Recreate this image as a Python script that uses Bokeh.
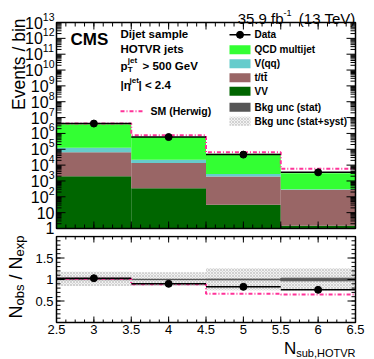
import numpy as np
from bokeh.plotting import figure
from bokeh.models import Range1d, Label
from bokeh.layouts import column
from bokeh.embed import file_html
from bokeh.resources import INLINE

# ---------------- data ----------------
bin_lo = [2.5, 3.5, 4.5, 5.5]
bin_hi = [3.5, 4.5, 5.5, 6.5]
bin_center = [3.0, 4.0, 5.0, 6.0]
vv = [2000, 353, 31, 1.5]
ttbar = [64000, 13150, 1870, 278]
vqq = [60000, 8500, 800, 16]
qcd = [3.63e6, 5.68e5, 5.03e4, 2800]
data = [4.2e6, 5.9e5, 4.6e4, 3.5e3]
herwig = [4.2e6, 7.6e5, 6.6e4, 5.9e3]
ratio_data = [1.03, 0.90, 0.83, 0.76]
ratio_herwig = [1.02, 0.89, 0.67, 0.65]
unc_tot_hi = [1.18, 1.17, 1.26, 1.26]
unc_tot_lo = [0.85, 0.85, 0.75, 0.75]
unc_stat = [0.004, 0.005, 0.008, 0.03]
x_ticks = [2.5, 3.0, 3.5, 4.0, 4.5, 5.0, 5.5, 6.0, 6.5]
x_tick_labels = ["2.5", "3", "3.5", "4", "4.5", "5", "5.5", "6", "6.5"]
ry_ticks = [0.5, 1.0, 1.5]
ry_tick_labels = ["0.5", "1", "1.5"]
decades = list(range(14))
X_LO, X_HI = 2.5, 6.5
Y_LO, Y_HI = 1.0, 1e13
R_LO, R_HI = 0.0, 2.0

C_QCD = "#33ff33"
C_VQQ = "#66cccc"
C_TT = "#996666"
C_VV = "#006600"
C_STAT = "#555555"
C_HW = "#ff3399"
FONT = "Liberation Sans"

# ---------------- layout (image px) ----------------
W = 374
FL, FR = 56, 355
UT, UB = 22, 228
LT, LB = 236, 322
H1 = 235
H2 = 359 - H1


def xd(px):
    return X_LO + (px - FL) * (X_HI - X_LO) / (FR - FL)


def yu(py):
    return 10 ** (13.0 * (UB - py) / (UB - UT))


def yl(py):
    return R_LO + (R_HI - R_LO) * (LB - py) / (LB - LT)


def lab(p, x, y, text, size, bold=False, align="left", baseline="middle", angle=0.0):
    p.add_layout(Label(x=x, y=y, text=text, text_font=FONT, text_font_size=f"{size}px",
                       text_font_style="bold" if bold else "normal", text_align=align,
                       text_baseline=baseline, angle=angle, text_color="black"))


def bare(p):
    p.grid.visible = False
    p.outline_line_color = None
    p.min_border = 0
    p.min_border_left = p.min_border_right = p.min_border_top = p.min_border_bottom = 0


x_minor = [v for v in np.arange(2.5, 6.5001, 0.125)]
y_minor = [m * 10.0 ** k for k in decades[:-1] for m in range(2, 10)]
ry_minor = list(np.round(np.arange(0.1, 2.0, 0.1), 3))

# ---------------- upper panel ----------------
p1 = figure(width=W, height=H1, x_range=Range1d(xd(0), xd(W)), y_range=Range1d(yu(H1), yu(0)),
            y_axis_type="log", x_axis_location=None, y_axis_location=None,
            output_backend="svg", toolbar_location=None)
bare(p1)

s0 = np.array(vv, float)
s1 = s0 + np.array(ttbar)
s2 = s1 + np.array(vqq)
s3 = s2 + np.array(qcd)
p1.quad(left=bin_lo, right=bin_hi, bottom=[Y_LO] * 4, top=s0, fill_color=C_VV, line_color=None)
p1.quad(left=bin_lo, right=bin_hi, bottom=s0, top=s1, fill_color=C_TT, line_color=None)
p1.quad(left=bin_lo, right=bin_hi, bottom=s1, top=s2, fill_color=C_VQQ, line_color=None)
p1.quad(left=bin_lo, right=bin_hi, bottom=s2, top=s3, fill_color=C_QCD, line_color=None)
p1.step(x=bin_lo + [bin_hi[-1]], y=herwig + [herwig[-1]], mode="after", line_color=C_HW,
        line_width=2, line_dash="4 2 1 2")
p1.segment(x0=bin_lo, x1=bin_hi, y0=data, y1=data, line_color="black", line_width=1.5)
p1.scatter(bin_center, data, size=7, color="black")

# ticks (upper)
ym = [10.0 ** k for k in decades]
for vals, ln in [(ym, 9), (y_minor, 5)]:
    p1.segment(x0=[X_LO] * len(vals), x1=[xd(FL + ln)] * len(vals), y0=vals, y1=vals,
               line_color="black", line_width=1)
    p1.segment(x0=[X_HI] * len(vals), x1=[xd(FR - ln)] * len(vals), y0=vals, y1=vals,
               line_color="black", line_width=1)
for vals, ln in [(x_ticks, 7), (x_minor, 4)]:
    p1.segment(x0=vals, x1=vals, y0=[Y_LO] * len(vals), y1=[yu(UB - ln)] * len(vals),
               line_color="black", line_width=1)
    p1.segment(x0=vals, x1=vals, y0=[Y_HI] * len(vals), y1=[yu(UT + ln)] * len(vals),
               line_color="black", line_width=1)
p1.quad(left=X_LO, right=X_HI, bottom=Y_LO, top=Y_HI, fill_color=None, line_color="black",
        line_width=1.5)

# y tick labels with superscripts
for k in decades:
    py = UB - k * (UB - UT) / 13.0
    if k == 0:
        lab(p1, xd(54), yu(py - 1), "1", 16, align="right")
    elif k == 1:
        lab(p1, xd(54), 10.0 ** k, "10", 16, align="right")
    else:
        e = str(k)
        ew = len(e) * 0.556 * 10.5
        lab(p1, xd(54 - ew), 10.0 ** k, "10", 16, align="right")
        lab(p1, xd(54 - ew), yu(py - 6), e, 10.5, align="left")

# axis title
lab(p1, xd(18), yu(18), "Events / bin", 17.5, align="right", baseline="alphabetic", angle=np.pi / 2)

# title
lab(p1, xd(355), yu(18), "(13 TeV)", 15, align="right", baseline="alphabetic")
lab(p1, xd(283), yu(12.5), "-1", 9, align="left", baseline="alphabetic")
lab(p1, xd(283), yu(18), "35.9 fb", 15, align="right", baseline="alphabetic")

# CMS + selection text
lab(p1, xd(70), yu(38.5), "CMS", 17, bold=True)
lab(p1, xd(120), yu(33), "Dijet sample", 11.5, bold=True)
lab(p1, xd(120), yu(48), "HOTVR jets", 11.5, bold=True)
lab(p1, xd(120), yu(65), "p", 11.5, bold=True)
lab(p1, xd(127.3), yu(69), "T", 8, bold=True)
lab(p1, xd(127.3), yu(60), "jet", 8, bold=True)
lab(p1, xd(142), yu(65), "> 500 GeV", 11.5, bold=True)
lab(p1, xd(120), yu(84), "|\u03b7", 11.5, bold=True)
lab(p1, xd(129), yu(79.5), "jet", 8, bold=True)
lab(p1, xd(138), yu(84), "| < 2.4", 11.5, bold=True)

# SM (Herwig) legend
p1.line([xd(120), xd(143)], [yu(110.7)] * 2, line_color=C_HW, line_width=2, line_dash="4 2 1 2")
lab(p1, xd(150), yu(110.7), "SM (Herwig)", 10.5, bold=True)

# right legend
leg_x0, leg_x1, leg_tx = 229, 250, 254
p1.line([xd(leg_x0), xd(leg_x1)], [yu(34.3)] * 2, line_color="black", line_width=1.5)
p1.scatter([xd((leg_x0 + leg_x1) / 2)], [yu(34.3)], size=7, color="black")
lab(p1, xd(leg_tx), yu(34.3), "Data", 10, bold=True)
leg_items = [("QCD multijet", 49.3, C_QCD), ("V(qq)", 63.3, C_VQQ), ("t/tt\u0304", 77.3, C_TT),
             ("VV", 90.7, C_VV), ("Bkg unc (stat)", 106.7, C_STAT)]
for txt, cy, col in leg_items:
    p1.quad(left=xd(leg_x0), right=xd(leg_x1), bottom=yu(cy + 4.5), top=yu(cy - 4.5),
            fill_color=col, line_color=None)
    lab(p1, xd(leg_tx), yu(cy), txt, 10, bold=True)
p1.quad(left=xd(leg_x0), right=xd(leg_x1), bottom=yu(120.7 + 4.5), top=yu(120.7 - 4.5),
        fill_color="#f2f2f2", line_color=None, hatch_pattern="diagonal_cross",
        hatch_color="#bbbbbb", hatch_scale=3, hatch_weight=0.6)
lab(p1, xd(leg_tx), yu(120.7), "Bkg unc (stat+syst)", 10, bold=True)

# ---------------- ratio panel ----------------
p2 = figure(width=W, height=H2, x_range=p1.x_range, y_range=Range1d(yl(359), yl(H1)),
            x_axis_location=None, y_axis_location=None,
            output_backend="svg", toolbar_location=None)
bare(p2)

p2.quad(left=bin_lo, right=bin_hi, bottom=unc_tot_lo, top=unc_tot_hi, fill_color="#f2f2f2",
        line_color=None, hatch_pattern="diagonal_cross", hatch_color="#bbbbbb",
        hatch_scale=3, hatch_weight=0.6)
st = np.array(unc_stat)
p2.quad(left=bin_lo, right=bin_hi, bottom=1 - st, top=1 + st, fill_color=C_STAT,
        line_color=C_STAT, line_width=1)
p2.step(x=bin_lo + [bin_hi[-1]], y=ratio_herwig + [ratio_herwig[-1]], mode="after",
        line_color=C_HW, line_width=2, line_dash="4 2 1 2")
p2.segment(x0=bin_lo, x1=bin_hi, y0=ratio_data, y1=ratio_data, line_color="black", line_width=1.5)
p2.scatter(bin_center, ratio_data, size=7, color="black")

# ticks (ratio)
for vals, ln in [(ry_ticks, 8), (ry_minor, 4)]:
    p2.segment(x0=[X_LO] * len(vals), x1=[xd(FL + ln)] * len(vals), y0=vals, y1=vals,
               line_color="black", line_width=1)
    p2.segment(x0=[X_HI] * len(vals), x1=[xd(FR - ln)] * len(vals), y0=vals, y1=vals,
               line_color="black", line_width=1)
for vals, ln in [(x_ticks, 6), (x_minor, 3)]:
    p2.segment(x0=vals, x1=vals, y0=[R_LO] * len(vals), y1=[yl(LB - ln)] * len(vals),
               line_color="black", line_width=1)
    p2.segment(x0=vals, x1=vals, y0=[R_HI] * len(vals), y1=[yl(LT + ln)] * len(vals),
               line_color="black", line_width=1)
p2.quad(left=X_LO, right=X_HI, bottom=R_LO, top=R_HI, fill_color=None, line_color="black",
        line_width=1.5)

for t, s in zip(ry_ticks, ry_tick_labels):
    lab(p2, xd(53), t, s, 13, align="right")
for t, s in zip(x_ticks, x_tick_labels):
    lab(p2, t, yl(329), s, 13, align="center")

# ratio y title: N_obs / N_exp (rotated)
bx, sx = 15, 19
yy = 318
pieces = [("N", 18, bx, 0.722, 0.0), ("obs", 13, sx, 1.612, 0.0), ("/", 18, bx, 0.834, 0.278),
          ("N", 18, bx, 0.722, 0.0), ("exp", 13, sx, 1.612, 0.0)]
for txt, size, base, wem, pre in pieces:
    lab(p2, xd(base), yl(yy - pre * size), txt, size, align="left", baseline="alphabetic",
        angle=np.pi / 2)
    yy -= wem * size

# x title: N_sub,HOTVR
lab(p2, xd(355), yl(352), "sub,HOTVR", 11, align="right", baseline="alphabetic")
lab(p2, xd(355 - 5.39 * 11), yl(348), "N", 17, align="right", baseline="alphabetic")

layout = column(p1, p2)
open("out.html", "w").write(file_html(layout, INLINE))
